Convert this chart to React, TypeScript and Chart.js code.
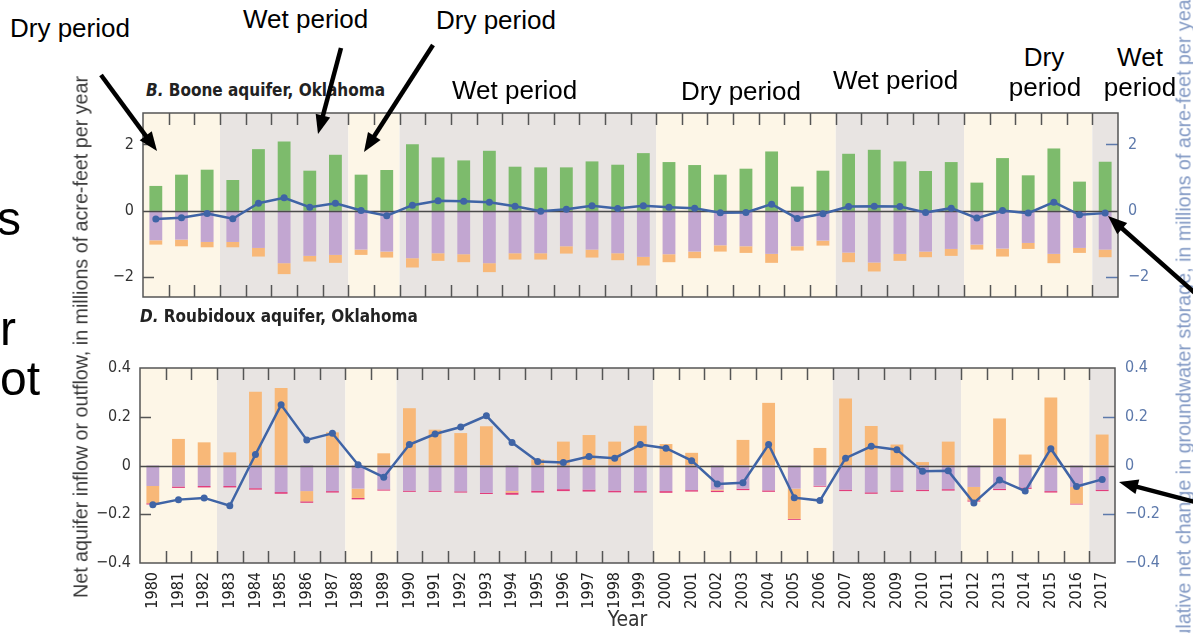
import React, { useEffect, useRef } from "react";
import { Chart, registerables } from "chart.js";

Chart.register(...registerables);

// ---------------- DATA ----------------
const years = [
  "1980", "1981", "1982", "1983", "1984", "1985", "1986", "1987", "1988", "1989",
  "1990", "1991", "1992", "1993", "1994", "1995", "1996", "1997", "1998", "1999",
  "2000", "2001", "2002", "2003", "2004", "2005", "2006", "2007", "2008", "2009",
  "2010", "2011", "2012", "2013", "2014", "2015", "2016", "2017",
];

// B. Boone aquifer (millions of acre-feet per year)
const booneInflow = [
  0.75, 1.09, 1.24, 0.93, 1.86, 2.09, 1.21, 1.69, 1.09, 1.23,
  2.01, 1.61, 1.52, 1.81, 1.33, 1.31, 1.31, 1.49, 1.39, 1.74,
  1.47, 1.38, 1.09, 1.27, 1.79, 0.73, 1.21, 1.72, 1.84, 1.49,
  1.20, 1.47, 0.85, 1.59, 1.07, 1.88, 0.88, 1.48,
];
const booneOutflowPurple = [
  -0.89, -0.87, -0.94, -0.94, -1.12, -1.58, -1.36, -1.33, -1.17, -1.23,
  -1.43, -1.28, -1.31, -1.58, -1.28, -1.28, -1.07, -1.17, -1.28, -1.39,
  -1.31, -1.23, -1.04, -1.07, -1.30, -1.07, -0.90, -1.26, -1.56, -1.30,
  -1.23, -1.15, -1.02, -1.14, -0.97, -1.30, -1.12, -1.17,
];
const booneOutflowOrange = [
  -0.13, -0.20, -0.16, -0.16, -0.26, -0.33, -0.17, -0.24, -0.16, -0.18,
  -0.28, -0.23, -0.24, -0.27, -0.19, -0.19, -0.22, -0.24, -0.21, -0.26,
  -0.24, -0.20, -0.19, -0.20, -0.27, -0.13, -0.15, -0.29, -0.27, -0.21,
  -0.17, -0.21, -0.15, -0.24, -0.18, -0.28, -0.15, -0.23,
];
const booneStorage = [
  -0.25, -0.21, -0.08, -0.24, 0.23, 0.39, 0.11, 0.23, 0.01, -0.15,
  0.17, 0.30, 0.29, 0.26, 0.14, -0.01, 0.05, 0.15, 0.07, 0.15,
  0.11, 0.08, -0.06, -0.05, 0.20, -0.23, -0.09, 0.13, 0.14, 0.13,
  -0.05, 0.08, -0.22, 0.01, -0.07, 0.26, -0.12, -0.07,
];

// D. Roubidoux aquifer (millions of acre-feet per year)
const roubPurple = [
  -0.084, -0.086, -0.084, -0.084, -0.093, -0.109, -0.105, -0.105, -0.095, -0.098,
  -0.103, -0.103, -0.106, -0.112, -0.105, -0.103, -0.097, -0.099, -0.103, -0.105,
  -0.105, -0.101, -0.099, -0.095, -0.102, -0.095, -0.083, -0.099, -0.110, -0.102,
  -0.099, -0.097, -0.088, -0.095, -0.090, -0.105, -0.088, -0.099,
];
const roubOrange = [
  -0.071, 0.109, 0.095, 0.054, 0.303, 0.318, -0.042, 0.136, -0.038, 0.050,
  0.235, 0.147, 0.133, 0.161, -0.006, 0.025, 0.098, 0.125, 0.098, 0.163,
  0.088, 0.052, -0.004, 0.105, 0.257, -0.124, 0.072, 0.275, 0.162, 0.086,
  0.014, 0.098, -0.055, 0.193, 0.045, 0.279, -0.068, 0.127,
];
const roubPink = [
  -0.005, -0.006, -0.006, -0.006, -0.006, -0.007, -0.006, -0.006, -0.006, -0.005,
  -0.005, -0.005, -0.005, -0.005, -0.009, -0.008, -0.008, -0.008, -0.007, -0.006,
  -0.007, -0.006, -0.006, -0.006, -0.006, -0.004, -0.004, -0.006, -0.006, -0.006,
  -0.006, -0.006, -0.005, -0.006, -0.006, -0.006, -0.004, -0.006,
];
const roubStorage = [
  -0.161, -0.140, -0.133, -0.165, 0.045, 0.249, 0.105, 0.132, 0.003, -0.048,
  0.086, 0.129, 0.158, 0.204, 0.094, 0.016, 0.012, 0.037, 0.030, 0.086,
  0.071, 0.020, -0.076, -0.071, 0.086, -0.132, -0.144, 0.030, 0.079, 0.065,
  -0.024, -0.022, -0.154, -0.059, -0.105, 0.069, -0.086, -0.057,
];

// Dry / wet periods (background shading)
const periodStarts = ["1980", "1983", "1988", "1990", "2000", "2007", "2012", "2017"];
const periodEnds = ["1982", "1987", "1989", "1999", "2006", "2011", "2016", "2017"];
const periodTypes = ["dry", "wet", "dry", "wet", "dry", "wet", "dry", "wet"];

const booneTicks = [-2, 0, 2];
const roubTicks = [-0.4, -0.2, 0, 0.2, 0.4];

// ---------------- STYLE ----------------
const CREAM = "#fdf6e7";
const GRAY = "#e8e4e2";
const GREEN = "#7dbb6c";
const PURPLE = "#c2a6d1";
const ORANGE = "#f8b878";
const PINK = "#e23d7c";
const BLUE = "#3f64a6";
const AXISBLUE = "#5d79ab";
const FRAME = "#555555";
const NARROW = '"Liberation Sans Narrow", "DejaVu Sans Condensed", "Arial Narrow", sans-serif';
const ARIAL = '"Liberation Sans", Arial, sans-serif';

function fmt(v: number): string {
  if (Math.abs(v) < 1e-9) return "0";
  return (v < 0 ? "\u2212" : "") + String(Math.abs(v));
}

const bandPlugin = {
  id: "bands",
  beforeDatasetsDraw(chart: any) {
    const { ctx, chartArea, scales } = chart;
    const x = scales.x;
    const half = (x.getPixelForValue(1) - x.getPixelForValue(0)) / 2;
    ctx.save();
    for (let k = 0; k < periodStarts.length; k++) {
      const i0 = years.indexOf(periodStarts[k]);
      const i1 = years.indexOf(periodEnds[k]);
      const x0 = Math.max(chartArea.left, x.getPixelForValue(i0) - half);
      const x1 = Math.min(chartArea.right, x.getPixelForValue(i1) + half);
      ctx.fillStyle = periodTypes[k] === "dry" ? CREAM : GRAY;
      ctx.fillRect(x0, chartArea.top, x1 - x0, chartArea.bottom - chartArea.top);
    }
    ctx.restore();
  },
};

const zeroLinePlugin = {
  id: "zeroline",
  beforeDatasetDraw(chart: any, args: any) {
    if (args.meta.type !== "line") return;
    const { ctx, chartArea, scales } = chart;
    const y0 = Math.round(scales.y.getPixelForValue(0)) + 0.5;
    ctx.save();
    ctx.strokeStyle = "#4a4a4a";
    ctx.lineWidth = 1.5;
    ctx.beginPath();
    ctx.moveTo(chartArea.left, y0);
    ctx.lineTo(chartArea.right, y0);
    ctx.stroke();
    ctx.restore();
  },
};

const framePlugin = {
  id: "frame",
  afterDraw(chart: any, _args: any, opts: any) {
    const { ctx, chartArea, scales } = chart;
    const { left, right, top, bottom } = chartArea;
    const x = scales.x;
    const half = (x.getPixelForValue(1) - x.getPixelForValue(0)) / 2;
    ctx.save();
    ctx.strokeStyle = FRAME;
    ctx.lineWidth = 1.5;
    ctx.beginPath();
    for (let i = 0; i < years.length - 1; i++) {
      const px = Math.round(x.getPixelForValue(i) + half) + 0.5;
      ctx.moveTo(px, top);
      ctx.lineTo(px, top + 12);
      ctx.moveTo(px, bottom);
      ctx.lineTo(px, bottom - 12);
    }
    ctx.stroke();
    const tv: number[] = opts.ticks || [];
    const yS = scales.y;
    ctx.beginPath();
    for (const v of tv) {
      const py = Math.round(yS.getPixelForValue(v)) + 0.5;
      if (py <= top + 2 || py >= bottom - 2 || Math.abs(v) < 1e-9) continue;
      ctx.moveTo(left, py);
      ctx.lineTo(left + 11, py);
    }
    ctx.stroke();
    ctx.strokeStyle = AXISBLUE;
    ctx.beginPath();
    for (const v of tv) {
      const py = Math.round(yS.getPixelForValue(v)) + 0.5;
      if (py <= top + 2 || py >= bottom - 2 || Math.abs(v) < 1e-9) continue;
      ctx.moveTo(right, py);
      ctx.lineTo(right - 12, py);
    }
    ctx.stroke();
    ctx.strokeStyle = FRAME;
    ctx.lineWidth = 1.5;
    ctx.strokeRect(left, top, right - left, bottom - top);
    ctx.restore();
  },
};

type PanelCfg = {
  datasets: any[];
  min: number;
  max: number;
  ticks: number[];
  leftW: number;
  rightW: number;
  padTop: number;
  padBottom: number;
  showX: boolean;
};

function buildChart(canvas: HTMLCanvasElement, cfg: PanelCfg) {
  const tickFont = { family: NARROW, size: 16 };
  return new Chart(canvas, {
    type: "bar",
    data: { labels: years, datasets: cfg.datasets },
    plugins: [bandPlugin, zeroLinePlugin, framePlugin],
    options: {
      responsive: false,
      animation: false,
      devicePixelRatio: 1,
      layout: { padding: { left: 0, right: 0, top: cfg.padTop, bottom: cfg.padBottom } },
      plugins: {
        legend: { display: false },
        tooltip: { enabled: false },
        frame: { ticks: cfg.ticks },
      } as any,
      scales: {
        x: {
          display: cfg.showX,
          stacked: true,
          offset: true,
          grid: { display: false, drawTicks: false },
          border: { display: false },
          ticks: {
            autoSkip: false,
            maxRotation: 90,
            minRotation: 90,
            padding: 9,
            font: { family: NARROW, size: 16 },
            color: "#222",
          },
          title: {
            display: cfg.showX,
            text: "Year",
            font: { family: NARROW, size: 21 },
            color: "#333",
            padding: { top: 0, bottom: 0 },
          },
          afterFit: (s: any) => {
            s.height = cfg.showX ? 70 : 0;
            s.paddingLeft = 0;
            s.paddingRight = 0;
          },
        },
        y: {
          position: "left",
          stacked: true,
          min: cfg.min,
          max: cfg.max,
          grid: { display: false, drawTicks: false },
          border: { display: false },
          ticks: { padding: 9, font: tickFont, color: "#333", callback: (v: any) => fmt(Number(v)) },
          afterBuildTicks: (s: any) => {
            s.ticks = cfg.ticks.map((v) => ({ value: v }));
          },
          afterFit: (s: any) => {
            s.width = cfg.leftW;
            s.paddingTop = 0;
            s.paddingBottom = 0;
          },
        },
        y1: {
          position: "right",
          stacked: false,
          min: cfg.min,
          max: cfg.max,
          grid: { display: false, drawTicks: false },
          border: { display: false },
          ticks: { padding: 10, font: tickFont, color: AXISBLUE, callback: (v: any) => fmt(Number(v)) },
          afterBuildTicks: (s: any) => {
            s.ticks = cfg.ticks.map((v) => ({ value: v }));
          },
          afterFit: (s: any) => {
            s.width = cfg.rightW;
            s.paddingTop = 0;
            s.paddingBottom = 0;
          },
        },
      },
    } as any,
  });
}

function barDs(label: string, data: number[], color: string) {
  return {
    type: "bar",
    label,
    data,
    backgroundColor: color,
    borderWidth: 0,
    barPercentage: 0.5,
    categoryPercentage: 1,
    yAxisID: "y",
    order: 1,
  };
}

function lineDs(label: string, data: number[]) {
  return {
    type: "line",
    label,
    data,
    borderColor: BLUE,
    backgroundColor: BLUE,
    borderWidth: 2.5,
    pointRadius: 3.5,
    pointBorderWidth: 0,
    pointBackgroundColor: BLUE,
    tension: 0,
    yAxisID: "y1",
    order: 0,
  };
}

function Txt(props: { x: number; base: number; size: number; text: string; font?: string; color?: string; align?: string; weight?: string }) {
  const { x, base, size, text } = props;
  const style: any = {
    position: "absolute",
    top: base - 0.85 * size,
    left: x,
    fontSize: size,
    lineHeight: size + "px",
    fontFamily: props.font || ARIAL,
    color: props.color || "#000",
    whiteSpace: "nowrap",
    fontWeight: props.weight || "normal",
  };
  if (props.align === "center") style.transform = "translateX(-50%)";
  return <div style={style}>{text}</div>;
}

function Arrow({ sx, sy, tx, ty }: { sx: number; sy: number; tx: number; ty: number }) {
  const dx = tx - sx;
  const dy = ty - sy;
  const len = Math.sqrt(dx * dx + dy * dy);
  const ux = dx / len;
  const uy = dy / len;
  const L = 19;
  const Wd = 15;
  const bx = tx - ux * L;
  const by = ty - uy * L;
  const nx = -uy;
  const ny = ux;
  const pts = `${tx},${ty} ${bx + (nx * Wd) / 2},${by + (ny * Wd) / 2} ${bx - (nx * Wd) / 2},${by - (ny * Wd) / 2}`;
  return (
    <g>
      <line x1={sx} y1={sy} x2={bx + ux * 2} y2={by + uy * 2} stroke="#000" strokeWidth={4.5} />
      <polygon points={pts} fill="#000" />
    </g>
  );
}

export default function App() {
  const topRef = useRef<HTMLCanvasElement | null>(null);
  const botRef = useRef<HTMLCanvasElement | null>(null);

  useEffect(() => {
    const c1 = buildChart(topRef.current!, {
      datasets: [
        barDs("Inflow", booneInflow, GREEN),
        barDs("Outflow", booneOutflowPurple, PURPLE),
        barDs("Other outflow", booneOutflowOrange, ORANGE),
        lineDs("Net change in storage", booneStorage),
      ],
      min: -2.6,
      max: 2.95,
      ticks: booneTicks,
      leftW: 143,
      rightW: 75,
      padTop: 13,
      padBottom: 13,
      showX: false,
    });
    const c2 = buildChart(botRef.current!, {
      datasets: [
        barDs("Outflow", roubPurple, PURPLE),
        barDs("Lateral flow", roubOrange, ORANGE),
        barDs("Withdrawals", roubPink, PINK),
        lineDs("Net change in storage", roubStorage),
      ],
      min: -0.4,
      max: 0.4,
      ticks: roubTicks,
      leftW: 140,
      rightW: 78,
      padTop: 18,
      padBottom: 0,
      showX: true,
    });
    return () => {
      c1.destroy();
      c2.destroy();
    };
  }, []);

  const titleStyle = (left: number, base: number): any => ({
    position: "absolute",
    left,
    top: base - 0.85 * 17,
    fontSize: 17,
    lineHeight: "17px",
    fontFamily: NARROW,
    fontWeight: "bold",
    color: "#222",
    whiteSpace: "nowrap",
  });

  return (
    <div
      style={{
        position: "absolute",
        left: 0,
        top: 0,
        width: 1193,
        height: 633,
        overflow: "hidden",
        background: "#fff",
      }}
    >
      <canvas
        ref={topRef}
        width={1193}
        height={210}
        style={{ position: "absolute", left: 0, top: 100, width: 1193, height: 210 }}
      />
      <canvas
        ref={botRef}
        width={1193}
        height={283}
        style={{ position: "absolute", left: 0, top: 350, width: 1193, height: 283 }}
      />

      {/* panel titles */}
      <div style={titleStyle(146, 96)}>
        <i>B.</i> Boone aquifer, Oklahoma
      </div>
      <div style={titleStyle(140, 322)}>
        <i>D.</i> Roubidoux aquifer, Oklahoma
      </div>

      {/* axis titles */}
      <div
        style={{
          position: "absolute",
          left: 81,
          top: 337,
          transform: "translate(-50%, -50%) rotate(-90deg)",
          fontSize: 19.7,
          fontFamily: ARIAL,
          color: "#3a3a3a",
          whiteSpace: "nowrap",
        }}
      >
        Net aquifer inflow or outflow, in millions of acre-feet per year
      </div>
      <div
        style={{
          position: "absolute",
          left: 1184,
          top: 337,
          transform: "translate(-50%, -50%) rotate(-90deg)",
          fontSize: 19.7,
          fontFamily: ARIAL,
          color: "#8299c4",
          whiteSpace: "nowrap",
        }}
      >
        Cumulative net change in groundwater storage, in millions of acre-feet per year
      </div>

      {/* slide fragments at left edge */}
      <Txt x={-3} base={236} size={48} text="s" />
      <Txt x={0} base={346} size={48} text="r" />
      <Txt x={0} base={396} size={48} text="ot" />

      {/* period annotations */}
      <Txt x={10} base={37} size={26} text="Dry period" />
      <Txt x={243} base={28} size={26} text="Wet period" />
      <Txt x={436} base={29} size={26} text="Dry period" />
      <Txt x={452} base={99} size={26} text="Wet period" />
      <Txt x={681} base={100} size={26} text="Dry period" />
      <Txt x={833} base={89} size={26} text="Wet period" />
      <Txt x={1044} base={66} size={26} text="Dry" align="center" />
      <Txt x={1045} base={96} size={26} text="period" align="center" />
      <Txt x={1140} base={66} size={26} text="Wet" align="center" />
      <Txt x={1140} base={96} size={26} text="period" align="center" />

      <svg
        width={1193}
        height={633}
        style={{ position: "absolute", left: 0, top: 0, pointerEvents: "none" }}
      >
        <Arrow sx={101} sy={75} tx={157} ty={151} />
        <Arrow sx={341} sy={48} tx={318} ty={134} />
        <Arrow sx={433} sy={45} tx={364} ty={152} />
        <Arrow sx={1195} sy={293} tx={1108} ty={216} />
        <Arrow sx={1195} sy={502} tx={1119} ty={482} />
      </svg>
    </div>
  );
}
